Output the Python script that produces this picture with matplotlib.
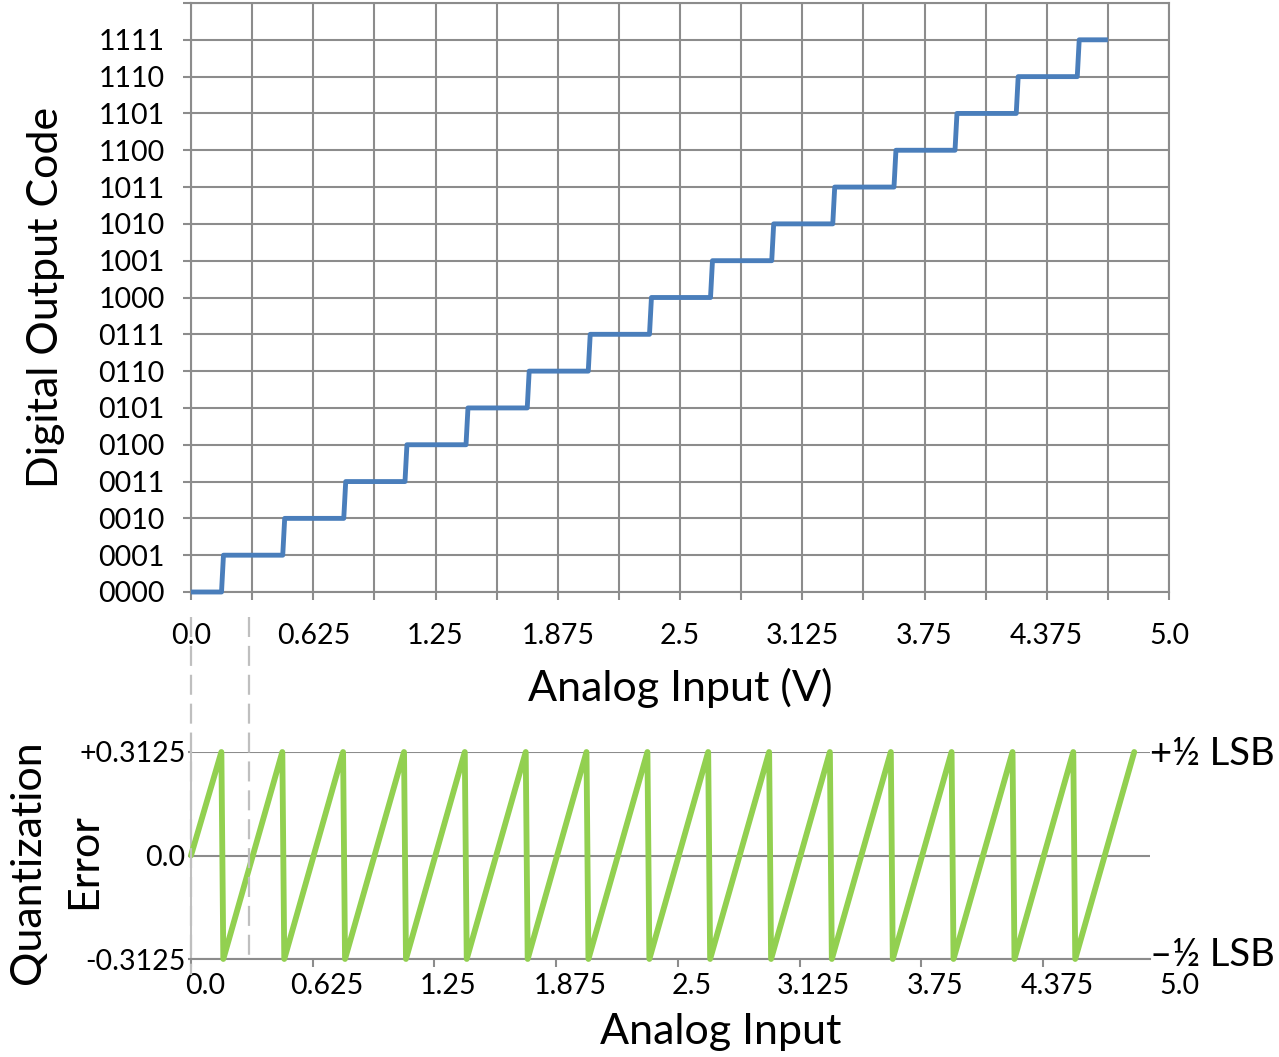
import matplotlib
matplotlib.use("Agg")
import matplotlib.pyplot as plt
from matplotlib.lines import Line2D
from matplotlib.transforms import blended_transform_factory, offset_copy

plt.rcParams['font.family'] = ['Lato', 'DejaVu Sans']

# ---------------- data ----------------
codes = [0, 1, 2, 3, 4, 5, 6, 7, 8, 9, 10, 11, 12, 13, 14, 15]
code_labels = ['0000', '0001', '0010', '0011', '0100', '0101', '0110', '0111',
               '1000', '1001', '1010', '1011', '1100', '1101', '1110', '1111']
# analog input voltages where the output code steps up (code k -> k+1)
transitions = [0.156, 0.469, 0.781, 1.094, 1.406, 1.719, 2.031, 2.344,
               2.656, 2.969, 3.281, 3.594, 3.906, 4.219, 4.531]
stair_start = 0.0
stair_end = 4.6875
err_start_x, err_start_y = 0.0, 0.0
err_end_x = 4.844
err_high = 0.3125
err_low = -0.3125
x_tick_values = [0.0, 0.625, 1.25, 1.875, 2.5, 3.125, 3.75, 4.375, 5.0]
x_tick_labels = ['0.0', '0.625', '1.25', '1.875', '2.5', '3.125', '3.75', '4.375', '5.0']
x_grid_values = [0.0, 0.3125, 0.625, 0.9375, 1.25, 1.5625, 1.875, 2.1875, 2.5,
                 2.8125, 3.125, 3.4375, 3.75, 4.0625, 4.375, 4.6875, 5.0]
err_tick_values = [-0.3125, 0.0, 0.3125]
err_tick_labels = ['-0.3125', '0.0', '+0.3125']
dashed_x = [0.0, 0.3]

# ---------------- style ----------------
W, H = 1279, 1057
BLUE = '#4A7EBB'
GREEN = '#92D050'
GRID = '#8C8C8C'
LIGHT = '#BFBFBF'
SLANT = 0.01
TICK_FS = 20.5
LABEL_FS = 31

fig = plt.figure(figsize=(W / 100, H / 100), dpi=100)

def fx(px):
    return px / W

def fy(py):
    return 1 - py / H

# ---------------- top: transfer function ----------------
ax1 = fig.add_axes([fx(191), fy(592), fx(1169) - fx(191), fy(3) - fy(592)])
sx, sy = [stair_start], [codes[0]]
for k, t in enumerate(transitions):
    sx += [t, t + SLANT]
    sy += [codes[k], codes[k + 1]]
sx.append(stair_end)
sy.append(codes[-1])
ax1.plot(sx, sy, color=BLUE, lw=3.5, solid_joinstyle='round',
         solid_capstyle='butt', zorder=3, clip_on=False)
ax1.set_xlim(0, 5.0)
ax1.set_ylim(0, 16)
ax1.set_xticks(x_grid_values)
ax1.set_xticklabels([x_tick_labels[x_tick_values.index(v)] if v in x_tick_values else ''
                     for v in x_grid_values])
ax1.set_yticks(list(range(0, 17)))
ax1.set_yticklabels(code_labels + [''])
ax1.grid(True, color=GRID, lw=1.5)
ax1.set_axisbelow(True)
for sp in ax1.spines.values():
    sp.set_color(GRID)
    sp.set_linewidth(1.5)
ax1.tick_params(axis='both', direction='out', length=6, width=1.5, color=GRID,
                labelsize=TICK_FS, labelcolor='black')
ax1.tick_params(axis='x', pad=16)
ax1.tick_params(axis='y', pad=13)
ax1.set_xlabel('Analog Input (V)', fontsize=LABEL_FS, labelpad=14)
ax1.set_ylabel('Digital Output Code', fontsize=LABEL_FS, va='center')
ax1.yaxis.set_label_coords((46 - 191) / (1169 - 191), 0.5)

# ---------------- bottom: quantization error ----------------
ax2 = fig.add_axes([fx(191), fy(959), fx(1150) - fx(191), fy(752) - fy(959)])
ex, ey = [err_start_x], [err_start_y]
for t in transitions:
    ex += [t, t + SLANT]
    ey += [err_high, err_low]
ex.append(err_end_x)
ey.append(err_high)
ax2.plot(ex, ey, color=GREEN, lw=4.2, solid_joinstyle='round',
         solid_capstyle='round', zorder=3, clip_on=False)
ax2.set_xlim(0, 4.925)
ax2.set_ylim(err_low, err_high)
ax2.set_xticks(x_tick_values[:-1])
ax2.set_xticklabels([])
ax2.set_yticks(err_tick_values)
ax2.set_yticklabels(err_tick_labels)
ax2.yaxis.grid(True, color=GRID, lw=1.5)
ax2.set_axisbelow(True)
for s in ['top', 'right']:
    ax2.spines[s].set_visible(False)
ax2.spines['bottom'].set_color(GRID)
ax2.spines['bottom'].set_linewidth(1.5)
ax2.spines['left'].set_color(LIGHT)
ax2.spines['left'].set_linewidth(1.5)
ax2.tick_params(axis='x', direction='out', length=6, width=1.5, color=GRID)
ax2.tick_params(axis='y', direction='out', length=2, width=1.5, color=GRID,
                labelsize=TICK_FS, pad=2)
# two-line y label, drawn as two separate rotated texts
fig.text(fx(28), fy(862), 'Quantization', rotation=90, fontsize=LABEL_FS,
         ha='center', va='center')
fig.text(fx(84), fy(861), 'Error', rotation=90, fontsize=LABEL_FS,
         ha='center', va='center')

# tick labels for the error plot (placed on their own label axis)
axl = fig.add_axes([fx(205), fy(959), fx(1179) - fx(205), 0.0001])
axl.set_xlim(0, 5.0)
axl.set_xticks(x_tick_values)
axl.set_xticklabels(x_tick_labels)
axl.set_yticks([])
axl.patch.set_visible(False)
for sp in axl.spines.values():
    sp.set_visible(False)
axl.tick_params(axis='x', length=0, labelsize=TICK_FS, pad=10)
fig.text(fx(721), fy(1032), 'Analog Input', fontsize=LABEL_FS, ha='center', va='center')

# LSB annotations
bt = blended_transform_factory(ax2.transAxes, ax2.transData)
ax2.text(1.0, err_high, '+½ LSB', transform=offset_copy(bt, fig=fig, y=-2, units='dots'),
         fontsize=27.5, ha='left', va='center', clip_on=False)
ax2.text(1.0, err_low, '–½ LSB', transform=offset_copy(bt, fig=fig, y=4, units='dots'),
         fontsize=27.5, ha='left', va='center', clip_on=False)

# dashed guide lines linking both plots
tr = blended_transform_factory(ax2.transData, fig.transFigure)
for x, yb in zip(dashed_x, [975, 955]):
    fig.add_artist(Line2D([x, x], [fy(617), fy(yb)], transform=tr, color=LIGHT,
                          lw=1.6, linestyle=(0, (9, 4)), zorder=5))

fig.savefig('out.png', dpi=100)
